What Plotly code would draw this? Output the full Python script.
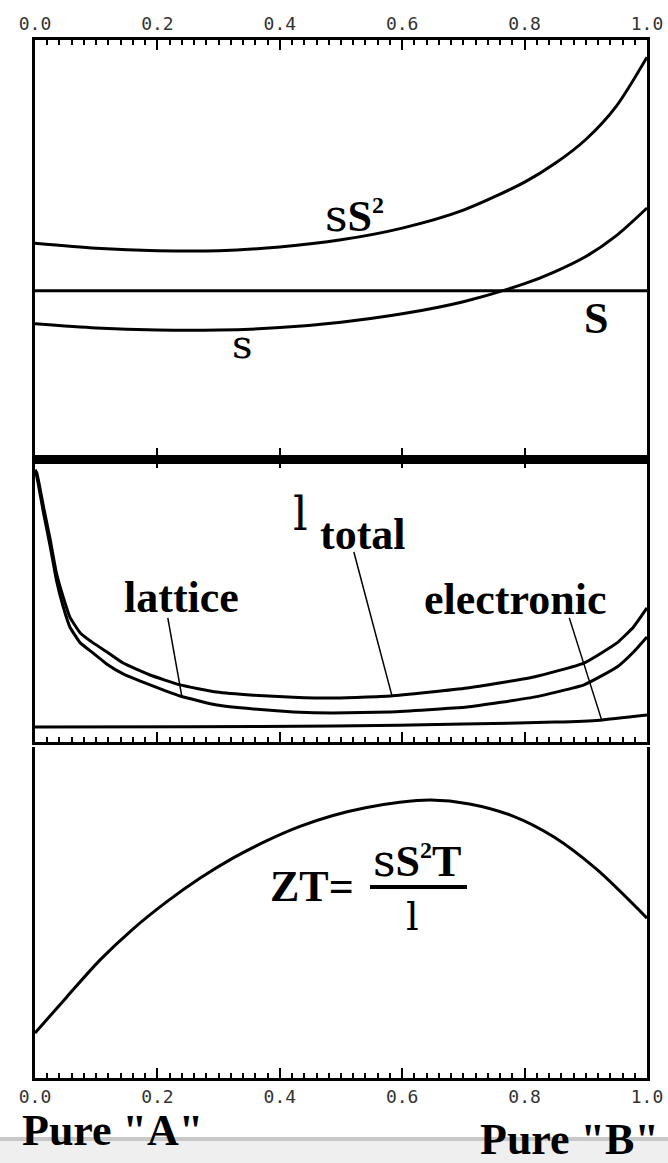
import plotly.graph_objects as go

# composition axis (fraction of "B")
x_top = [0.0, 0.1, 0.2, 0.3, 0.4, 0.5, 0.6, 0.7, 0.8, 0.85, 0.9, 0.95, 1.0]
power_factor = [5.14, 5.02, 4.96, 4.96, 5.05, 5.22, 5.50, 5.93, 6.60, 7.05, 7.62, 8.42, 9.59]
sigma = [3.21, 3.11, 3.06, 3.06, 3.12, 3.25, 3.45, 3.74, 4.17, 4.46, 4.82, 5.32, 5.98]
x_seebeck = [0.0, 1.0]
seebeck = [4.0, 4.0]

x_mid = [0.0, 0.003, 0.014, 0.025, 0.035, 0.046, 0.057, 0.074, 0.095, 0.117, 0.144,
         0.188, 0.237, 0.297, 0.357, 0.422, 0.487, 0.581, 0.706, 0.815, 0.897,
         0.951, 0.978, 1.0]
k_total = [9.58, 9.47, 8.27, 7.11, 5.95, 5.11, 4.40, 3.84, 3.49, 3.18, 2.78,
           2.36, 2.01, 1.76, 1.65, 1.58, 1.55, 1.62, 1.90, 2.29, 2.78,
           3.49, 4.05, 4.72]
k_lattice = [9.58, 9.34, 8.06, 6.87, 5.70, 4.77, 4.05, 3.49, 3.13, 2.75, 2.40,
             2.01, 1.62, 1.30, 1.16, 1.06, 1.02, 1.06, 1.23, 1.58, 2.01,
             2.64, 3.17, 3.70]
x_elec = [0.0, 0.25, 0.489, 0.7, 0.85, 0.923, 1.0]
k_elec = [0.53, 0.54, 0.56, 0.63, 0.70, 0.77, 0.95]

x_zt = [0.0, 0.052, 0.106, 0.16, 0.215, 0.27, 0.324, 0.379, 0.433, 0.487, 0.542,
        0.596, 0.646, 0.71, 0.78, 0.848, 0.918, 1.0]
zt = [1.36, 2.45, 3.56, 4.50, 5.32, 6.04, 6.65, 7.17, 7.60, 7.93, 8.17,
      8.33, 8.40, 8.28, 7.92, 7.28, 6.30, 4.83]

W, H = 668, 1163


def px(x):
    return x / W


def py(y):
    return 1 - y / H


xdom = [px(35), px(647)]
line = dict(color="black", width=3)
serif = "Liberation Serif"
greek = "DejaVu Serif"

fig = go.Figure()
fig.add_trace(go.Scatter(x=x_top, y=power_factor, xaxis="x", yaxis="y", mode="lines",
                         line=dict(shape="spline", smoothing=0.8, **line)))
fig.add_trace(go.Scatter(x=x_top, y=sigma, xaxis="x4", yaxis="y", mode="lines",
                         line=dict(shape="spline", smoothing=0.8, **line)))
fig.add_trace(go.Scatter(x=x_seebeck, y=seebeck, xaxis="x", yaxis="y", mode="lines", line=line))
fig.add_trace(go.Scatter(x=x_mid, y=k_total, xaxis="x2", yaxis="y2", mode="lines",
                         line=dict(shape="spline", smoothing=0.4, **line)))
fig.add_trace(go.Scatter(x=x_mid, y=k_lattice, xaxis="x5", yaxis="y2", mode="lines",
                         line=dict(shape="spline", smoothing=0.4, **line)))
fig.add_trace(go.Scatter(x=x_elec, y=k_elec, xaxis="x5", yaxis="y2", mode="lines",
                         line=dict(shape="spline", smoothing=0.5, **line)))
fig.add_trace(go.Scatter(x=x_zt, y=zt, xaxis="x6", yaxis="y3", mode="lines",
                         line=dict(shape="spline", smoothing=0.8, **line)))

tickfont = dict(family="DejaVu Sans Mono", size=18, color="#333")


def xax(anchor, side, minor=True, labels=False, lw=3, overlay=None):
    d = dict(domain=xdom, range=[0, 1], anchor=anchor, side=side, showline=True,
             linewidth=lw, linecolor="black", ticks="inside", ticklen=10, tickwidth=2,
             tickcolor="black", tick0=0, dtick=0.2, tickformat=".1f",
             showticklabels=labels, tickfont=tickfont, ticklabelstandoff=0,
             showgrid=False, zeroline=False, fixedrange=True, automargin=False)
    if minor:
        d["minor"] = dict(dtick=0.02, ticks="inside", ticklen=5, tickwidth=2,
                          tickcolor="black", showgrid=False)
    if overlay:
        d["overlaying"] = overlay
    return d


def yax(dom):
    return dict(domain=dom, range=[0, 10], showline=True, linewidth=3, linecolor="black",
                mirror=True, ticks="", showticklabels=False, showgrid=False,
                zeroline=False, fixedrange=True, automargin=False)


annotations = []


def label(x, y, text, size=44, family=serif):
    annotations.append(dict(x=px(x), y=py(y), xref="paper", yref="paper", text=text,
                            showarrow=False, xanchor="center", yanchor="middle",
                            font=dict(family=family, size=size, color="black")))


def g(ch):
    return '<span style="font-family:%s">%s</span>' % (greek, ch)


sq = '<sup><span style="font-size:24px"><b>2</b></span></sup>'

# top panel
label(354, 216, g("s") + "<b>S</b>" + sq)
label(242, 344, "s", 40, greek)
label(596, 319, "<b>S</b>")
# thermal conductivity panel
label(300, 514, "l", 46, greek)
label(363, 534, "<b>total</b>")
label(181, 597, "<b>lattice</b>")
label(515, 599, "<b>electronic</b>")
# ZT panel
label(312, 886, "<b>ZT=</b>")
label(417, 860, g("s") + "<b>S</b>" + sq + "<b>T</b>")
label(412, 916, "l", 40, greek)
# composition ends
label(112, 1130, "<b>Pure \"A\"</b>")
label(569, 1139, "<b>Pure \"B\"</b>")

thin = dict(color="black", width=1.5)
shapes = [
    dict(type="rect", xref="paper", yref="paper", x0=0, x1=1, y0=py(1141), y1=py(1137),
         fillcolor="#c8c8c8", line=dict(width=0), layer="below"),
    dict(type="rect", xref="paper", yref="paper", x0=0, x1=1, y0=0, y1=py(1141),
         fillcolor="#efefef", line=dict(width=0), layer="below"),
    dict(type="line", xref="paper", yref="paper", x0=px(370), x1=px(467), y0=py(887),
         y1=py(887), line=dict(color="black", width=4)),
    # leader lines
    dict(type="line", xref="x2", yref="y2", x0=0.217, y0=4.37, x1=0.240, y1=1.60, line=thin),
    dict(type="line", xref="x2", yref="y2", x0=0.521, y0=6.69, x1=0.583, y1=1.65, line=thin),
    dict(type="line", xref="x2", yref="y2", x0=0.873, y0=4.37, x1=0.926, y1=0.77, line=thin),
]

fig.update_layout(
    template="none",
    width=W, height=H, margin=dict(l=0, r=0, t=0, b=0, pad=0, autoexpand=False),
    paper_bgcolor="white", plot_bgcolor="white", showlegend=False,
    xaxis=xax("y", "top", labels=True),
    xaxis4=xax("y", "bottom", minor=False, lw=6, overlay="x"),
    xaxis2=xax("y2", "top", minor=False),
    xaxis5=xax("y2", "bottom", overlay="x2"),
    xaxis3=xax("y3", "top"),
    xaxis6=xax("y3", "bottom", labels=True, overlay="x3"),
    yaxis=yax([py(458), py(40)]),
    yaxis2=yax([py(742), py(458)]),
    yaxis3=yax([py(1078), py(747)]),
    annotations=annotations,
    shapes=shapes,
)

fig.write_html("out.html", config={"displayModeBar": False},
               post_script="document.body.style.margin='0';document.body.style.overflow='hidden';")
